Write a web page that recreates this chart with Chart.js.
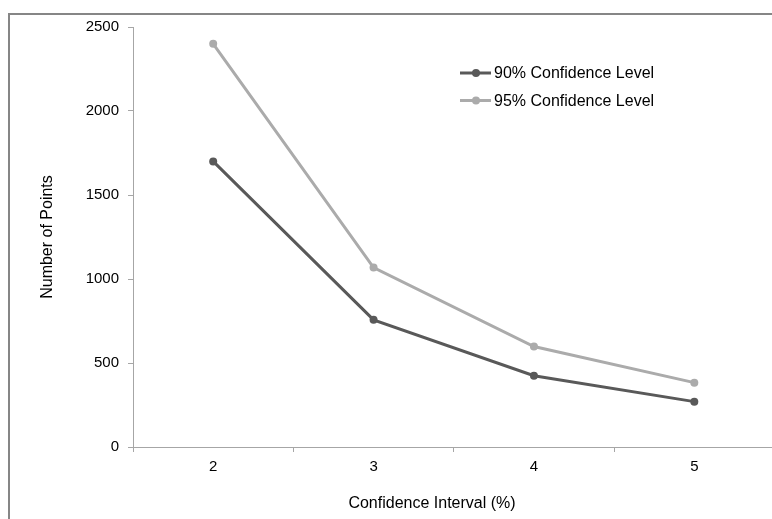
<!DOCTYPE html>
<html>
<head>
<meta charset="utf-8">
<script src="https://cdn.jsdelivr.net/npm/chart.js@4"></script>
<style>
    html, body { margin: 0; padding: 0; background: #fff; overflow: hidden; }
    body { width: 772px; height: 519px; position: relative; }
    #moldura {
        position: absolute; left: 8px; top: 13px;
        width: 820px; height: 540px;
        border-top: 2px solid #868686; border-left: 2px solid #868686;
    }
    #grafico { position: absolute; left: 0; top: -6px; }
</style>
</head>
<body>
<div id="moldura"><canvas id="grafico" width="800" height="520"></canvas></div>
<script>
// Valores.
const intervalos = ['2', '3', '4', '5'];
const nivel90 = [1700, 757, 424, 270];
const nivel95 = [2400, 1068, 598, 383];
const ticksY = [0, 500, 1000, 1500, 2000, 2500];

const familia = '"Liberation Sans", Arial, sans-serif';
const fonteTicks = { family: familia, size: 15 };
const fonteTitulo = { family: familia, size: 16 };
const corEixo = '#a6a6a6';

// Legenda desenhada dentro da área do gráfico, como no original.
const legendaInterna = {
    id: 'legendaInterna',
    afterDraw(chart) {
        const { ctx, chartArea } = chart;
        const x0 = chartArea.left + 327;
        const y0 = chartArea.top + 46;
        ctx.save();
        ctx.font = `${fonteTitulo.size}px ${familia}`;
        ctx.textBaseline = 'middle';
        chart.data.datasets.forEach((ds, i) => {
            const y = y0 + i * 27.5;
            ctx.strokeStyle = ds.borderColor;
            ctx.lineWidth = 3;
            ctx.beginPath();
            ctx.moveTo(x0, y);
            ctx.lineTo(x0 + 31, y);
            ctx.stroke();
            ctx.fillStyle = ds.borderColor;
            ctx.beginPath();
            ctx.arc(x0 + 16, y, 4, 0, Math.PI * 2);
            ctx.fill();
            ctx.fillStyle = '#000';
            ctx.fillText(ds.label, x0 + 34, y + 1);
        });
        ctx.restore();
    },
};

// Título do eixo X, deslocado para a esquerda como no Excel.
const tituloX = {
    id: 'tituloX',
    afterDraw(chart) {
        const { ctx } = chart;
        ctx.save();
        ctx.font = `${fonteTitulo.size}px ${familia}`;
        ctx.textAlign = 'center';
        ctx.textBaseline = 'middle';
        ctx.fillStyle = '#000';
        ctx.fillText('Confidence Interval (%)', 422, 495);
        ctx.restore();
    },
};

new Chart(document.getElementById('grafico'), {
    type: 'line',
    data: {
        labels: intervalos,
        datasets: [
            {
                label: '90% Confidence Level',
                data: nivel90,
                borderColor: '#595959',
                backgroundColor: '#595959',
                borderWidth: 3,
                pointRadius: 4,
                pointBorderWidth: 0,
                tension: 0,
            },
            {
                label: '95% Confidence Level',
                data: nivel95,
                borderColor: '#ababab',
                backgroundColor: '#ababab',
                borderWidth: 3,
                pointRadius: 4,
                pointBorderWidth: 0,
                tension: 0,
            },
        ],
    },
    options: {
        responsive: false,
        animation: false,
        layout: { padding: { top: 0, right: 35.5, bottom: 52, left: 0 } },
        plugins: {
            legend: { display: false },
            tooltip: { enabled: false },
        },
        scales: {
            x: {
                offset: true,
                afterFit: (s) => { s.height = 30; },
                grid: { offset: true, drawOnChartArea: false, tickLength: 5, color: corEixo },
                border: { color: corEixo },
                ticks: { font: fonteTicks, color: '#000', padding: 6, maxRotation: 0 },
            },
            y: {
                min: 0,
                max: 2500,
                afterFit: (s) => { s.width = 123; },
                afterBuildTicks: (s) => { s.ticks = ticksY.map((v) => ({ value: v })); },
                grid: { drawOnChartArea: false, tickLength: 5, color: corEixo },
                border: { color: corEixo },
                ticks: { font: fonteTicks, color: '#000', padding: 9, callback: (v) => String(v) },
                title: {
                    display: true,
                    text: 'Number of Points',
                    font: fonteTitulo,
                    color: '#000',
                    padding: { top: 28, bottom: 0 },
                },
            },
        },
    },
    plugins: [legendaInterna, tituloX],
});
</script>
</body>
</html>
